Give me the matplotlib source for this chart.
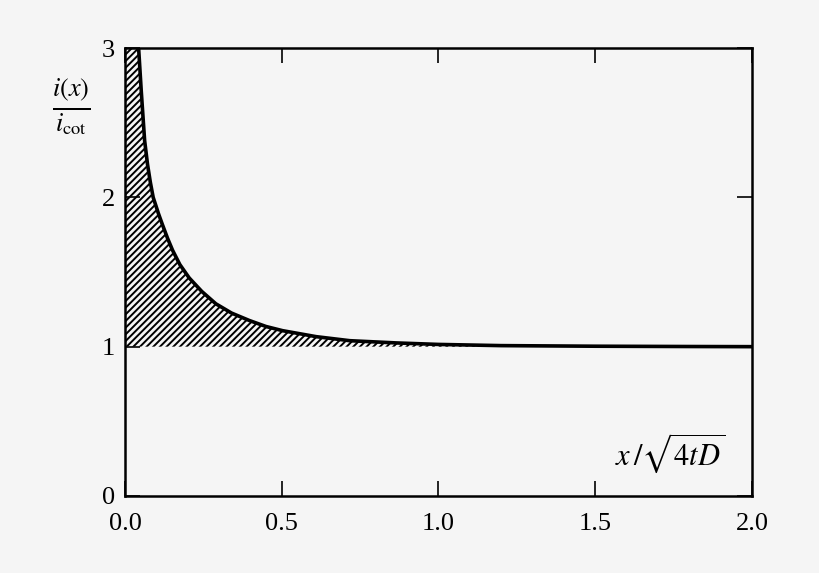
import numpy as np
import matplotlib
matplotlib.use("Agg")
import matplotlib.pyplot as plt

plt.rcParams['font.family'] = ['Liberation Serif', 'DejaVu Serif']
plt.rcParams['mathtext.fontset'] = 'stix'
plt.rcParams['hatch.linewidth'] = 1.4

# data: u = x/sqrt(4tD), ratio = i(x)/i_cot
u = [0.0, 0.0435, 0.052, 0.0627, 0.072, 0.081, 0.09, 0.107, 0.119, 0.136,
     0.152, 0.175, 0.205, 0.245, 0.29, 0.34, 0.397, 0.45, 0.503, 0.61,
     0.717, 0.866, 1.0, 1.2, 1.5, 1.8, 2.0]
ratio = [3.3, 3.0, 2.71, 2.38, 2.22, 2.1, 2.0, 1.89, 1.82, 1.725,
         1.645, 1.55, 1.46, 1.37, 1.287, 1.225, 1.175, 1.135, 1.107, 1.067,
         1.04, 1.025, 1.015, 1.007, 1.003, 1.001, 1.0]

xticks = [0.0, 0.5, 1.0, 1.5, 2.0]
xticklabels = ['0.0', '0.5', '1.0', '1.5', '2.0']
yticks = [0, 1, 2, 3]
yticklabels = ['0', '1', '2', '3']

bg = '#f5f5f5'
fig = plt.figure(figsize=(8.2, 5.73), dpi=100, facecolor=bg)
ax = fig.add_axes([0.1524, 0.1344, 0.7646, 0.7818])
ax.set_facecolor(bg)

ax.fill_between(u, 1, ratio, facecolor='none', edgecolor='black',
                hatch='/////', linewidth=0)
ax.plot(u, ratio, color='black', linewidth=2.6, solid_joinstyle='round')

ax.set_xlim(0, 2)
ax.set_ylim(0, 3)
ax.set_xticks(xticks)
ax.set_xticklabels(xticklabels)
ax.set_yticks(yticks)
ax.set_yticklabels(yticklabels)
ax.tick_params(direction='in', length=11, width=1.2, top=True, right=True,
               labelsize=19)
ax.tick_params(axis='x', pad=12)
ax.tick_params(axis='y', pad=7)
for s in ax.spines.values():
    s.set_linewidth(1.8)

fig.text(0.087, 0.813, r'$\frac{i(x)}{i_{\mathrm{cot}}}$', fontsize=27,
         ha='center', va='center')
ax.text(0.957, 0.096, r'$x\,/\sqrt{4tD}$', transform=ax.transAxes,
        fontsize=22, ha='right', va='center')

fig.savefig('out.png', dpi=100, facecolor=bg)
